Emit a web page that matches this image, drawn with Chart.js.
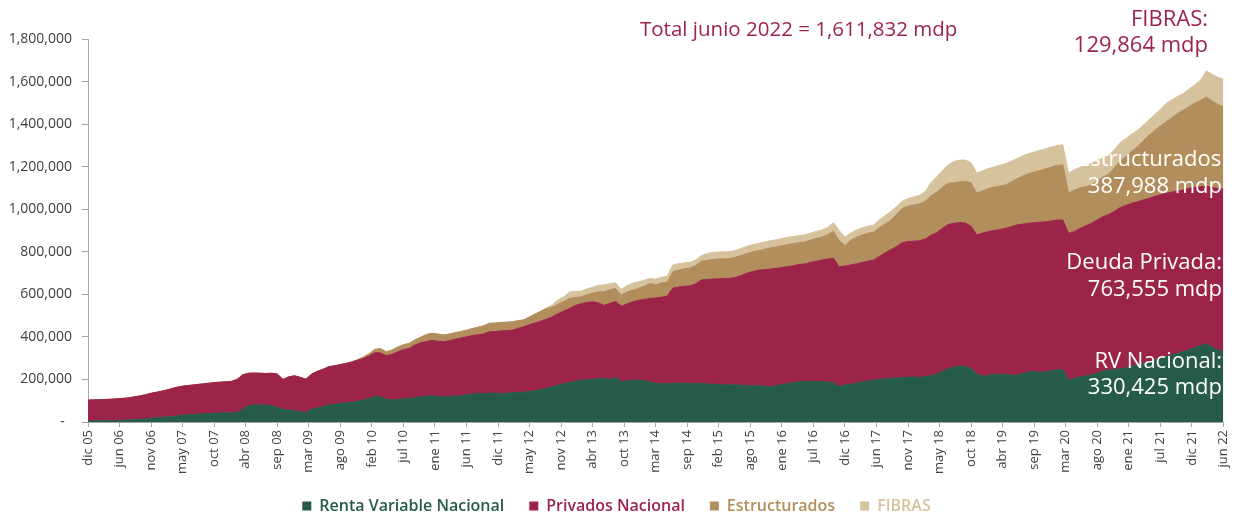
<!DOCTYPE html>
<html>
<head>
<meta charset="utf-8">
<script src="https://cdn.jsdelivr.net/npm/chart.js@4.4.0/dist/chart.umd.min.js"></script>
<style>
  html, body { margin: 0; padding: 0; background: #fff; }
</style>
</head>
<body>
<canvas id="chart" width="1242" height="512"></canvas>
<script>
// Valores mensuales, miles de mdp, dic 05 .. jun 22 (199 meses)
const rvNacional = [
  5, 5, 6, 6, 7, 7, 8, 9, 11, 13, 15, 18,
  20, 22, 25, 27, 30, 33, 35, 37, 39, 40, 41, 42,
  43, 44, 44, 60, 77, 80, 81, 80, 76, 68, 60, 56,
  54, 48, 44, 60, 66, 72, 80, 84, 88, 90, 93, 98,
  103, 110, 118, 118, 108, 103, 106, 109, 111, 114, 118, 121,
  123, 120, 119, 121, 122, 123, 128, 132, 135, 134, 135, 136,
  134, 135, 137, 139, 140, 144, 147, 153, 160, 166, 173, 180,
  186, 192, 197, 199, 201, 203, 205, 200, 210, 190, 193, 196,
  197, 195, 188, 182, 180, 179, 182, 183, 182, 181, 182, 181,
  179, 177, 176, 174, 175, 174, 173, 172, 171, 170, 168, 166,
  170, 176, 181, 185, 188, 190, 191, 190, 190, 188, 184, 166,
  174, 178, 182, 188, 193, 197, 200, 203, 205, 207, 209, 210,
  211, 210, 212, 218, 225, 238, 250, 258, 263, 262, 250, 225,
  215, 220, 222, 225, 224, 220, 221, 228, 235, 236, 233, 236,
  240, 246, 245, 197, 205, 212, 217, 221, 230, 240, 244, 247,
  250, 254, 262, 268, 275, 283, 290, 298, 307, 315, 322, 330,
  340, 350, 358, 368, 352, 338, 330.425
];

const privadosNacional = [
  98, 99, 99, 100, 100, 102, 103, 104, 107, 109, 113, 117,
  120, 124, 127, 133, 136, 137, 138, 139, 140, 142, 144, 145,
  146, 147, 156, 162, 152, 150, 148, 148, 153, 158, 140, 156,
  163, 162, 157, 165, 172, 176, 180, 180, 182, 185, 189, 192,
  196, 200, 208, 207, 204, 215, 224, 231, 235, 248, 254, 257,
  260, 260, 258, 261, 267, 271, 272, 274, 275, 280, 289, 289,
  294, 295, 295, 301, 308, 314, 319, 321, 324, 329, 337, 342,
  348, 356, 359, 363, 364, 357, 343, 358, 356, 355, 362, 369,
  375, 381, 393, 401, 406, 413, 448, 451, 456, 459, 468, 487,
  491, 495, 497, 500, 500, 506, 517, 528, 537, 544, 548, 553,
  552, 550, 549, 550, 552, 553, 559, 566, 571, 578, 586, 564,
  559, 560, 561, 562, 563, 564, 578, 592, 605, 618, 634, 638,
  639, 642, 648, 660, 665, 672, 678, 676, 674, 673, 670, 655,
  673, 675, 678, 680, 686, 698, 705, 702, 699, 701, 706, 705,
  705, 703, 705, 690, 690, 698, 705, 713, 720, 725, 731, 743,
  758, 764, 766, 767, 768, 768, 770, 770, 768, 765, 764, 760,
  758, 754, 748, 740, 750, 760, 763.555
];

const estructurados = [
  0, 0, 0, 0, 0, 0, 0, 0, 0, 0, 0, 0,
  0, 0, 0, 0, 0, 0, 0, 0, 0, 0, 0, 0,
  0, 0, 0, 0, 0, 0, 0, 0, 0, 0, 0, 0,
  0, 0, 0, 0, 0, 0, 0, 0, 0, 0, 1, 3,
  6, 10, 15, 20, 18, 20, 22, 23, 23, 23, 26, 33,
  34, 33, 32, 31, 31, 31, 31, 33, 35, 38, 40, 40,
  40, 39, 39, 36, 32, 36, 42, 47, 50, 45, 45, 44,
  47, 38, 32, 36, 40, 52, 64, 64, 62, 52, 56, 55,
  56, 62, 70, 62, 68, 65, 76, 80, 82, 84, 86, 88,
  90, 92, 93, 93, 93, 95, 94, 93, 92, 92, 96, 99,
  100, 102, 104, 103, 103, 103, 105, 107, 108, 114, 126, 123,
  96, 116, 126, 129, 131, 132, 136, 136, 138, 151, 161, 166,
  170, 173, 178, 185, 190, 193, 194, 190, 193, 196, 204, 196,
  198, 202, 204, 204, 204, 210, 217, 226, 233, 238, 243, 249,
  253, 257, 259, 188, 195, 190, 184, 180, 183, 186, 190, 205,
  220, 230, 245, 258, 278, 296, 310, 323, 336, 350, 364, 376,
  385, 395, 405, 420, 408, 395, 387.988
];

const fibras = [
  0, 0, 0, 0, 0, 0, 0, 0, 0, 0, 0, 0,
  0, 0, 0, 0, 0, 0, 0, 0, 0, 0, 0, 0,
  0, 0, 0, 0, 0, 0, 0, 0, 0, 0, 0, 0,
  0, 0, 0, 0, 0, 0, 0, 0, 0, 0, 0, 0,
  0, 0, 0, 0, 0, 0, 0, 0, 0, 0, 0, 0,
  0, 0, 0, 0, 0, 0, 0, 0, 0, 0, 0, 0,
  0, 0, 0, 0, 0, 0, 0, 0, 3, 12, 20, 22,
  30, 28, 27, 28, 28, 30, 32, 28, 26, 26, 30, 32,
  31, 28, 24, 26, 26, 28, 32, 30, 28, 26, 26, 26,
  32, 33, 33, 33, 32, 32, 33, 33, 34, 34, 34, 34,
  34, 34, 34, 34, 33, 33, 33, 33, 33, 34, 41, 47,
  39, 34, 33, 33, 33, 33, 36, 39, 41, 37, 34, 36,
  38, 40, 44, 62, 72, 80, 86, 100, 101, 100, 94, 94,
  94, 94, 94, 98, 100, 97, 95, 94, 94, 94, 94, 94,
  94, 94, 94, 94, 95, 97, 99, 101, 96, 90, 86, 86,
  86, 84, 80, 76, 74, 72, 75, 78, 86, 84, 80, 78,
  82, 85, 95, 122, 125, 127, 129.864
];

const etiquetasX = [
  "dic 05", "jun 06", "nov 06", "may 07", "oct 07", "abr 08", "sep 08", "mar 09",
  "ago 09", "feb 10", "jul 10", "ene 11", "jun 11", "dic 11", "may 12", "nov 12",
  "abr 13", "oct 13", "mar 14", "sep 14", "feb 15", "ago 15", "ene 16", "jul 16",
  "dic 16", "jun 17", "nov 17", "may 18", "oct 18", "abr 19", "sep 19", "mar 20",
  "ago 20", "ene 21", "jul 21", "dic 21", "jun 22"
];
const mesesPorEtiqueta = 5.5;

const colores = {
  rv: "#265b4a",
  privados: "#9d2449",
  estructurados: "#b38e5d",
  fibras: "#d6c29d"
};

const serie = (arr) => arr.map((v, i) => ({ x: i, y: v }));

// textos sobre la grafica
const notas = {
  id: "notas",
  afterDatasetsDraw(chart) {
    const ctx = chart.ctx;
    ctx.save();
    ctx.textBaseline = "middle";
    ctx.fillStyle = "#9d2449";
    ctx.textAlign = "left";
    ctx.font = "20.5px 'Open Sans'";
    ctx.fillText("Total junio 2022 = 1,611,832 mdp", 640, 30);
    ctx.textAlign = "right";
    ctx.font = "22px 'Open Sans'";
    ctx.fillText("FIBRAS:", 1208, 20);
    ctx.fillText("129,864 mdp", 1208, 46);
    ctx.fillStyle = "#ffffff";
    ctx.fillText("Estructurados:", 1227, 160);
    ctx.fillText("387,988 mdp", 1222, 187);
    ctx.fillText("Deuda Privada:", 1222, 263);
    ctx.fillText("763,555 mdp", 1222, 290);
    ctx.fillText("RV Nacional:", 1222, 362);
    ctx.fillText("330,425 mdp", 1222, 388);
    ctx.restore();
  }
};

// alto fijo de la leyenda
const leyendaFija = {
  id: "leyendaFija",
  beforeLayout(chart) {
    const lg = chart.legend;
    if (lg && !lg._fija) {
      const fit = lg.fit.bind(lg);
      lg.fit = function () { fit(); this.height = 39; };
      lg._fija = true;
    }
  }
};

new Chart(document.getElementById("chart"), {
  type: "line",
  data: {
    datasets: [
      { label: "Renta Variable Nacional", data: serie(rvNacional), backgroundColor: colores.rv, borderColor: colores.rv, fill: "origin" },
      { label: "Privados Nacional", data: serie(privadosNacional), backgroundColor: colores.privados, borderColor: colores.privados, fill: "-1" },
      { label: "Estructurados", data: serie(estructurados), backgroundColor: colores.estructurados, borderColor: colores.estructurados, fill: "-1" },
      { label: "FIBRAS", data: serie(fibras), backgroundColor: colores.fibras, borderColor: colores.fibras, fill: "-1" }
    ]
  },
  options: {
    responsive: false,
    devicePixelRatio: 1,
    animation: false,
    layout: { padding: { top: 39, right: 9, left: 0, bottom: 0 } },
    elements: {
      point: { radius: 0 },
      line: { borderWidth: 1, tension: 0 }
    },
    scales: {
      x: {
        type: "linear",
        min: 0,
        max: 198,
        afterFit(scale) { scale.height = 51; },
        afterBuildTicks(scale) {
          scale.ticks = etiquetasX.map((_, k) => ({ value: k * mesesPorEtiqueta }));
        },
        ticks: {
          autoSkip: false,
          maxRotation: 90,
          minRotation: 90,
          padding: 3,
          color: "#404040",
          font: { family: "'Open Sans'", size: 13 },
          callback: (v) => etiquetasX[Math.round(v / mesesPorEtiqueta)]
        },
        grid: { drawOnChartArea: false, drawTicks: true, tickLength: 5, color: "#a6a6a6" },
        border: { display: true, color: "#a6a6a6" }
      },
      y: {
        stacked: true,
        min: 0,
        max: 1800,
        afterFit(scale) { scale.width = 88; },
        ticks: {
          stepSize: 200,
          padding: 10,
          color: "#404040",
          font: { family: "'Open Sans'", size: 14 },
          callback: (v) => v === 0 ? "-  " : (v * 1000).toLocaleString("en-US")
        },
        grid: { drawOnChartArea: false, drawTicks: true, tickLength: 6, color: "#a6a6a6" },
        border: { display: true, color: "#a6a6a6" }
      }
    },
    plugins: {
      tooltip: { enabled: false },
      legend: {
        position: "bottom",
        labels: {
          boxWidth: 9,
          boxHeight: 9,
          padding: 25,
          font: { family: "'Open Sans'", size: 16, weight: "600" },
          generateLabels: (chart) => chart.data.datasets.map((ds, i) => ({
            text: ds.label,
            fillStyle: ds.backgroundColor,
            strokeStyle: ds.backgroundColor,
            fontColor: ds.backgroundColor,
            lineWidth: 0,
            hidden: false,
            datasetIndex: i
          }))
        }
      }
    }
  },
  plugins: [notas, leyendaFija]
});
</script>
</body>
</html>
